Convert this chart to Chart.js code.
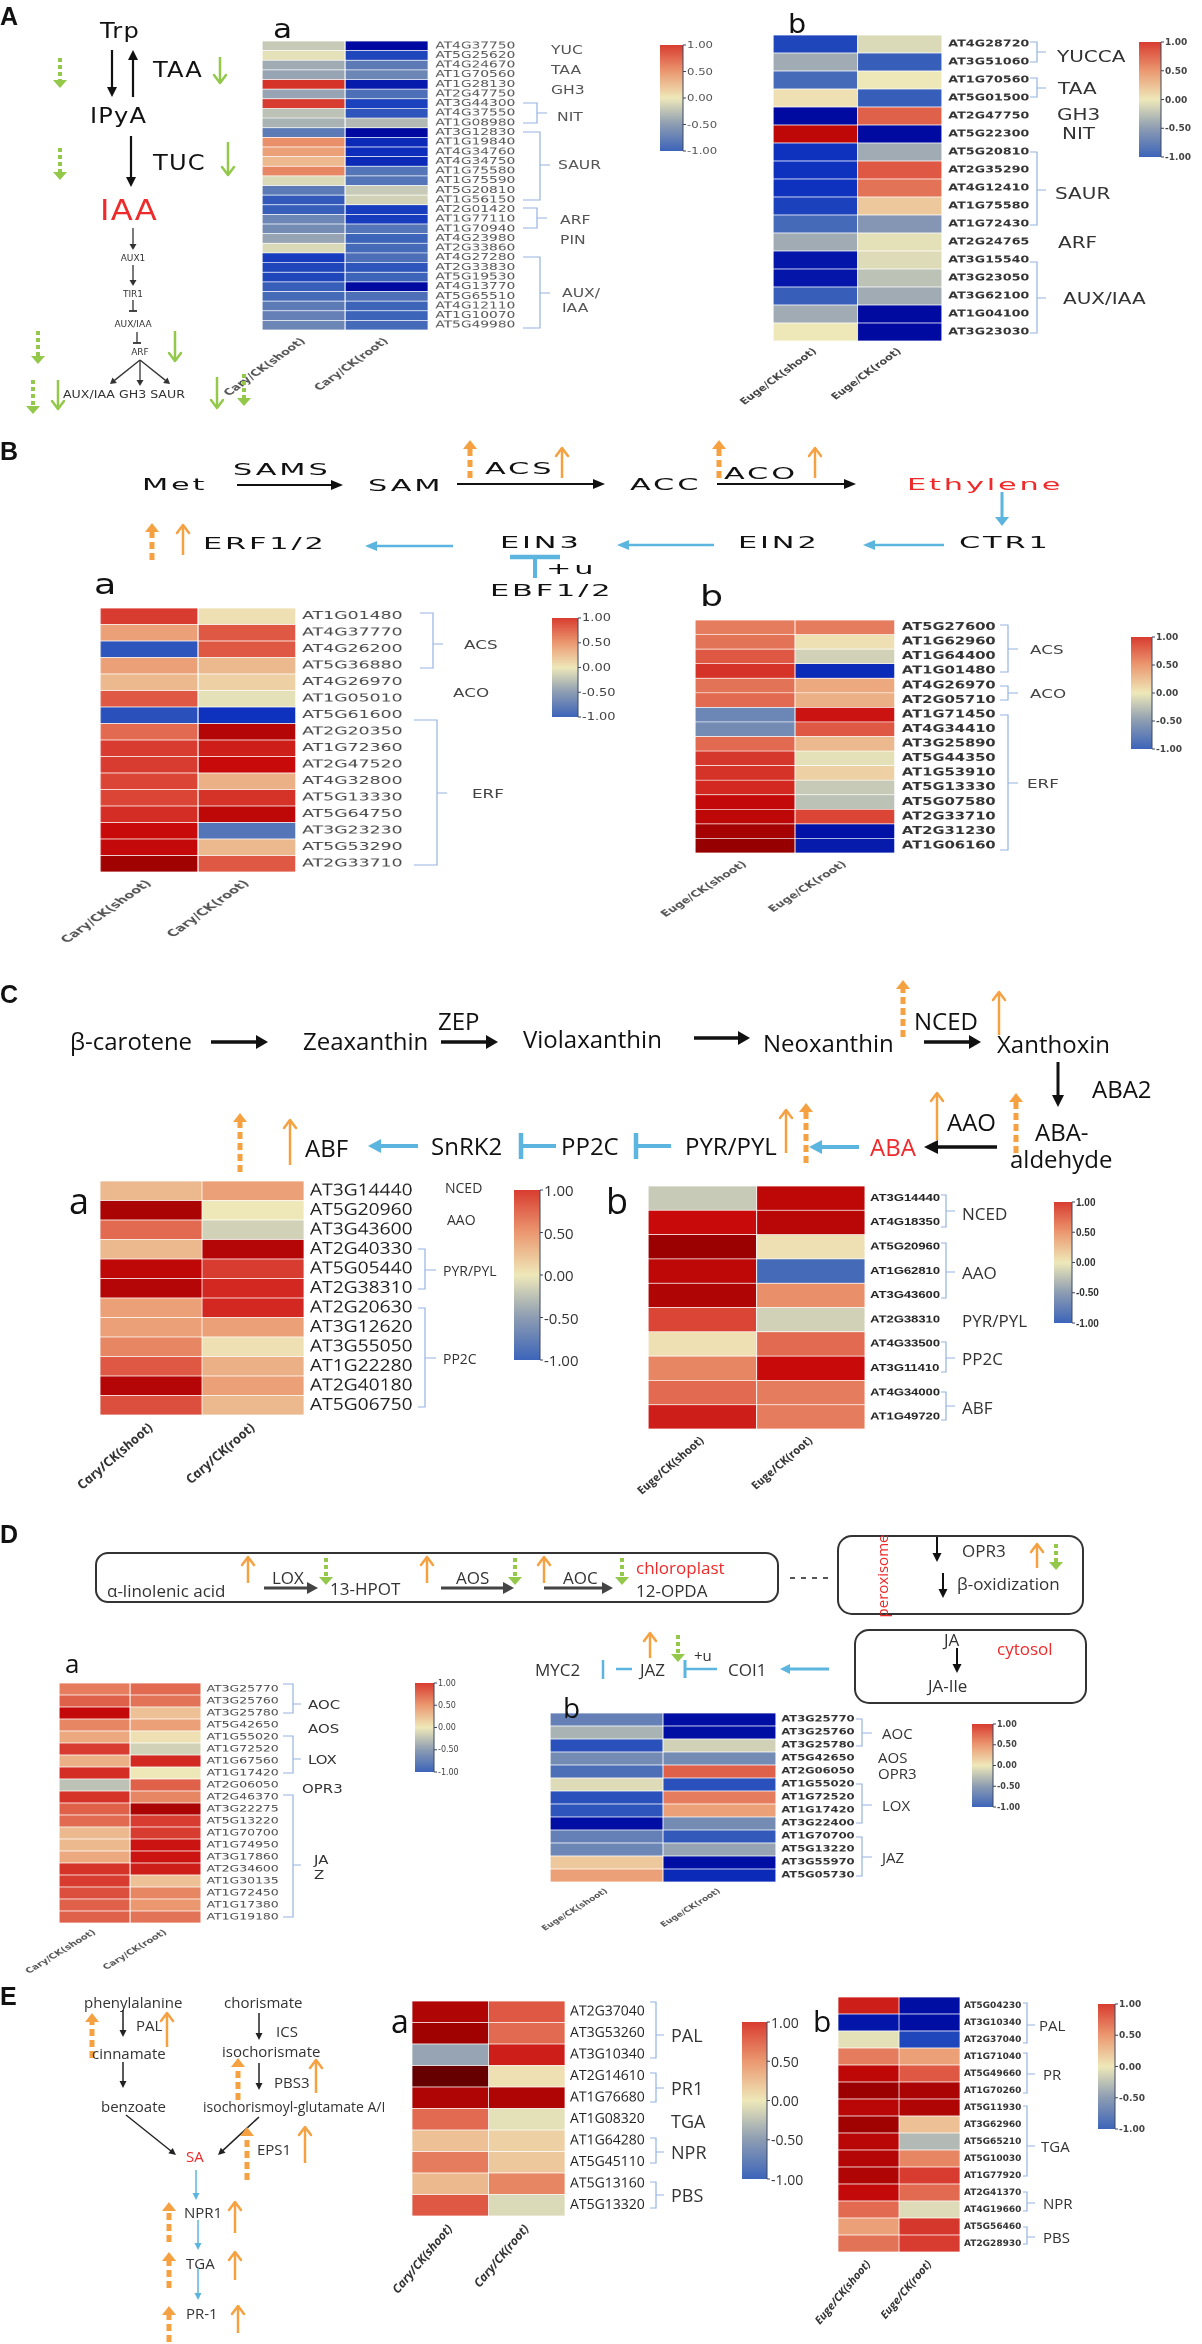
<!DOCTYPE html>
<html>
<head>
<meta charset="utf-8">
<script src="https://cdn.jsdelivr.net/npm/chart.js@4.4.1/dist/chart.umd.min.js"></script>
<style>
  html, body { margin: 0; background: #fff; }
  #page { position: relative; width: 1202px; height: 2344px; overflow: hidden; }
  #ov { position: absolute; left: 0; top: 0; pointer-events: none; }
</style>
</head>
<body>
<div id="page"><svg id="ov" width="1202" height="2344"></svg></div>
<script>
// column labels and colour bar ticks
const caryCols = ['Cary/CK(shoot)', 'Cary/CK(root)'];
const eugeCols = ['Euge/CK(shoot)', 'Euge/CK(root)'];
const barTicks = ['1.00', '0.50', '0.00', '-0.50', '-1.00'];

// A  auxin
const auxGenesA = ['AT4G37750','AT5G25620','AT4G24670','AT1G70560','AT1G28130','AT2G47750','AT3G44300','AT4G37550','AT1G08980','AT3G12830','AT1G19840','AT4G34760','AT4G34750','AT1G75580','AT1G75590','AT5G20810','AT1G56150','AT2G01420','AT1G77110','AT1G70940','AT4G23980','AT2G33860','AT4G27280','AT2G33830','AT5G19530','AT4G13770','AT5G65510','AT4G12110','AT1G10070','AT5G49980'];
const auxShootA = [-0.2,-0.05,-0.4,-0.45,1.1,-0.45,1.0,-0.25,-0.35,-0.8,0.55,0.45,0.3,0.6,-0.1,-0.8,-1.1,-1.05,-0.7,-0.65,-0.45,-0.1,-1.4,-1.3,-1.3,-1.05,-0.95,-0.8,-0.75,-0.7];
const auxRootA = [-2.0,-1.3,-0.8,-0.7,-1.8,-0.9,-1.35,-1.15,-0.3,-2.0,-1.6,-1.55,-1.6,-0.85,-0.85,-0.2,-0.15,-1.4,-1.4,-0.85,-1.0,-0.95,-0.9,-1.15,-1.0,-2.0,-0.9,-1.0,-1.0,-0.95];
const auxGenesB = ['AT4G28720','AT3G51060','AT1G70560','AT5G01500','AT2G47750','AT5G22300','AT5G20810','AT2G35290','AT4G12410','AT1G75580','AT1G72430','AT2G24765','AT3G15540','AT3G23050','AT3G62100','AT1G04100','AT3G23030'];
const auxShootB = [-1.3,-0.4,-0.95,0.05,-2.0,1.6,-1.5,-1.5,-1.5,-1.35,-0.95,-0.4,-1.85,-1.85,-1.05,-0.4,0.0];
const auxRootB = [-0.1,-1.05,0.0,-1.05,0.8,-2.0,-0.4,0.85,0.7,0.2,-0.55,-0.05,-0.08,-0.25,-0.4,-2.0,-2.0];

// B  ethylene
const ethGenesA = ['AT1G01480','AT4G37770','AT4G26200','AT5G36880','AT4G26970','AT1G05010','AT5G61600','AT2G20350','AT1G72360','AT2G47520','AT4G32800','AT5G13330','AT5G64750','AT3G23230','AT5G53290','AT2G33710'];
const ethShootA = [1.0,0.45,-1.15,0.45,0.3,0.85,-1.2,0.75,1.0,1.0,0.95,0.95,1.15,1.5,1.55,1.9];
const ethRootA = [0.05,0.85,0.85,0.3,0.15,-0.05,-1.5,1.7,1.3,1.5,0.35,1.1,1.6,-0.85,0.3,0.85];
const ethGenesB = ['AT5G27600','AT1G62960','AT1G64400','AT1G01480','AT4G26970','AT2G05710','AT1G71450','AT4G34410','AT3G25890','AT5G44350','AT1G53910','AT5G13330','AT5G07580','AT2G33710','AT2G31230','AT1G06160'];
const ethShootB = [0.65,0.7,0.85,1.1,0.7,0.75,-0.7,-0.65,0.75,1.05,1.1,1.2,1.55,1.6,1.85,2.0];
const ethRootB = [0.65,0.05,-0.15,-1.6,0.4,0.35,1.4,0.85,0.3,-0.05,0.15,-0.2,-0.25,0.95,-1.9,-1.8];

// C  ABA
const abaGenesA = ['AT3G14440','AT5G20960','AT3G43600','AT2G40330','AT5G05440','AT2G38310','AT2G20630','AT3G12620','AT3G55050','AT1G22280','AT2G40180','AT5G06750'];
const abaShootA = [0.3,1.8,0.75,0.3,1.6,1.7,0.45,0.45,0.6,0.85,1.7,0.9];
const abaRootA = [0.45,0.0,-0.15,1.7,1.0,1.2,1.2,0.45,0.05,0.35,0.45,0.3];
const abaGenesB = ['AT3G14440','AT4G18350','AT5G20960','AT1G62810','AT3G43600','AT2G38310','AT4G33500','AT3G11410','AT4G34000','AT1G49720'];
const abaShootB = [-0.2,1.5,1.95,1.6,1.75,0.95,0.05,0.6,0.75,1.3];
const abaRootB = [1.6,1.65,0.05,-0.95,0.55,-0.15,0.75,1.5,0.65,0.65];

// D  jasmonate
const jaGenesA = ['AT3G25770','AT3G25760','AT3G25780','AT5G42650','AT1G55020','AT1G72520','AT1G67560','AT1G17420','AT2G06050','AT2G46370','AT3G22275','AT5G13220','AT1G70700','AT1G74950','AT3G17860','AT2G34600','AT1G30135','AT1G72450','AT1G17380','AT1G19180'];
const jaShootA = [0.65,0.8,1.55,0.6,0.4,1.0,0.35,1.15,-0.25,1.1,0.8,0.75,0.3,0.3,0.4,1.1,1.0,0.9,0.8,0.8];
const jaRootA = [0.75,0.7,0.25,0.45,0.05,-0.15,1.2,0.0,0.8,0.6,1.8,1.0,1.0,1.4,1.4,1.3,0.25,0.6,0.5,0.7];
const jaGenesB = ['AT3G25770','AT3G25760','AT3G25780','AT5G42650','AT2G06050','AT1G55020','AT1G72520','AT1G17420','AT3G22400','AT1G70700','AT5G13220','AT3G55970','AT5G05730'];
const jaShootB = [-0.75,-0.35,-1.2,-0.65,-0.9,-0.08,-1.2,-1.15,-1.95,-0.75,-0.7,0.2,0.45];
const jaRootB = [-1.95,-1.95,-0.15,-0.65,0.8,-1.2,0.65,0.45,-0.65,-1.1,-0.45,-1.95,-1.6];

// E  salicylic acid
const saGenesA = ['AT2G37040','AT3G53260','AT3G10340','AT2G14610','AT1G76680','AT1G08320','AT1G64280','AT5G45110','AT5G13160','AT5G13320'];
const saShootA = [1.75,1.9,-0.45,2.4,1.75,0.75,0.25,0.65,0.3,0.85];
const saRootA = [0.85,0.75,1.3,0.05,1.75,-0.05,0.15,0.2,0.6,-0.1];
const saGenesB = ['AT5G04230','AT3G10340','AT2G37040','AT1G71040','AT5G49660','AT1G70260','AT5G11930','AT3G62960','AT5G65210','AT5G10030','AT1G77920','AT2G41370','AT4G19660','AT5G56460','AT2G28930'];
const saShootB = [1.3,-1.85,-0.05,0.65,1.6,1.95,1.65,1.9,1.65,1.7,1.75,1.55,0.75,0.45,0.7];
const saRootB = [-1.95,-1.95,-1.3,0.45,0.85,1.8,1.75,0.25,-0.3,0.6,1.0,0.75,-0.08,1.05,1.0];

const DJ = 'DejaVu Sans', OS = 'Open Sans', LS = 'Liberation Sans';
const ORANGE = '#f5a142', GREEN = '#93c84b', BLUE = '#5bb5de', RED = '#ee2a2a', BRK = '#95b3df';

const stops = [
  [-2.0, [0, 10, 160]], [-1.5, [14, 50, 190]], [-1.0, [60, 100, 185]], [-0.5, [140, 156, 178]],
  [0.0, [238, 232, 185]], [0.5, [235, 152, 112]], [1.0, [216, 60, 48]], [1.5, [200, 10, 10]],
  [2.0, [150, 0, 0]], [2.5, [90, 0, 0]],
];
function heatColor(v) {
  if (v <= stops[0][0]) return `rgb(${stops[0][1]})`;
  for (let i = 1; i < stops.length; i++) {
    if (v <= stops[i][0]) {
      const [v0, c0] = stops[i - 1], [v1, c1] = stops[i];
      const t = (v - v0) / (v1 - v0);
      return 'rgb(' + c0.map((c, k) => Math.round(c + (c1[k] - c) * t)).join(',') + ')';
    }
  }
  return `rgb(${stops[stops.length - 1][1]})`;
}

const page = document.getElementById('page');
const ov = document.getElementById('ov');

function heatmap(o) {
  const sx = o.sx || 1;
  const W = o.padL + o.w + o.labelW, H = o.h + o.padB;
  const box = document.createElement('div');
  box.style.cssText = `position:absolute;left:${o.x - o.padL}px;top:${o.y}px;width:${W}px;height:${H}px`;
  const cv = document.createElement('canvas');
  cv.width = Math.round(W / sx);
  cv.height = H;
  cv.style.width = W + 'px';
  cv.style.height = H + 'px';
  box.appendChild(cv);
  page.insertBefore(box, ov);
  const cols = o.cols;
  new Chart(cv, {
    type: 'bar',
    data: {
      labels: o.genes,
      datasets: [o.shoot, o.root].map((vals, c) => ({
        label: cols[c],
        data: vals.map((v, i) => ({ x: [c, c + 1], y: o.genes[i], v: v })),
        backgroundColor: (ctx) => heatColor(ctx.raw ? ctx.raw.v : 0),
        borderColor: 'rgba(255,255,255,0.6)',
        borderWidth: 0.7,
        borderSkipped: false,
        barPercentage: 1,
        categoryPercentage: 1,
        grouped: false,
      })),
    },
    options: {
      indexAxis: 'y',
      responsive: false,
      animation: false,
      devicePixelRatio: 2,
      layout: { padding: { left: o.padL / sx, right: 0, top: 0, bottom: 0 } },
      plugins: { legend: { display: false }, tooltip: { enabled: false } },
      scales: {
        y: {
          type: 'category', position: 'right', offset: true,
          grid: { display: false, drawTicks: false }, border: { display: false },
          ticks: { autoSkip: false, padding: o.tickPad, color: o.tick.color, font: o.tick.font },
          afterFit(s) { s.width = o.labelW / sx; s.paddingTop = 0; s.paddingBottom = 0; },
        },
        x: {
          type: 'linear', min: 0, max: 2,
          grid: { display: false, drawTicks: false }, border: { display: false },
          afterBuildTicks(s) { s.ticks = [{ value: 0.5 }, { value: 1.5 }]; },
          ticks: {
            autoSkip: false, callback: (v, i) => cols[i],
            minRotation: o.rot, maxRotation: o.rot, padding: o.colPad,
            color: o.col.color, font: o.col.font,
          },
          afterFit(s) { s.height = o.padB; s.paddingLeft = 0; s.paddingRight = 0; },
        },
      },
    },
  });
}

// ---- svg drawing helpers ----
const parts = [];
function T(x, y, s, o = {}) {
  const sx = o.sx || 1;
  const a = [
    `font-size="${o.size || 14}"`, `font-family="${o.font || DJ}"`, `fill="${o.color || '#111'}"`,
    o.weight ? `font-weight="${o.weight}"` : '', o.italic ? 'font-style="italic"' : '',
    o.ls ? `letter-spacing="${o.ls}"` : '', o.anchor ? `text-anchor="${o.anchor}"` : '',
  ].join(' ');
  const tf = `translate(${x} ${y})${o.rot ? ` rotate(${o.rot})` : ''} scale(${sx} 1)`;
  parts.push(`<text transform="${tf}" ${a} dominant-baseline="central">${s}</text>`);
}
function line(x1, y1, x2, y2, c, w, dash) {
  parts.push(`<line x1="${x1}" y1="${y1}" x2="${x2}" y2="${y2}" stroke="${c}" stroke-width="${w}"${dash ? ` stroke-dasharray="${dash}"` : ''}/>`);
}
function arrow(x1, y1, x2, y2, o = {}) {
  const c = o.color || '#111', w = o.w || 2, hl = o.hl || 9, hw = o.hw || 5;
  const a = Math.atan2(y2 - y1, x2 - x1), ca = Math.cos(a), sa = Math.sin(a);
  const bx = x2 - hl * ca, by = y2 - hl * sa;
  const p1 = `${bx + hw * sa},${by - hw * ca}`, p2 = `${bx - hw * sa},${by + hw * ca}`;
  if (o.open) {
    line(x1, y1, x2 - w * 0.5 * ca, y2 - w * 0.5 * sa, c, w, o.dash);
    parts.push(`<polyline points="${p1} ${x2},${y2} ${p2}" fill="none" stroke="${c}" stroke-width="${w}" stroke-linecap="round" stroke-linejoin="round"/>`);
  } else {
    line(x1, y1, bx + ca, by + sa, c, w, o.dash);
    parts.push(`<polygon points="${x2},${y2} ${p1} ${p2}" fill="${c}"/>`);
  }
}
const kinds = {
  os: { color: ORANGE, w: 2.5, open: true, hl: 8, hw: 6 },
  od: { color: ORANGE, w: 5, dash: '7 4', hl: 9, hw: 7 },
  gs: { color: GREEN, w: 2.5, open: true, hl: 8, hw: 6 },
  gd: { color: GREEN, w: 4, dash: '4 3', hl: 8, hw: 7 },
};
function vert(x, y0, y1, k) { arrow(x, y0, x, y1, kinds[k]); }
function tbar(x1, y1, x2, y2, len, c, w) {
  c = c || '#111'; w = w || 1.5;
  line(x1, y1, x2, y2, c, w);
  const a = Math.atan2(y2 - y1, x2 - x1), sa = Math.sin(a), ca = Math.cos(a);
  line(x2 + len / 2 * sa, y2 - len / 2 * ca, x2 - len / 2 * sa, y2 + len / 2 * ca, c, w + 0.5);
}
function br(x0, x1, y1, y2, ym, x2) {
  parts.push(`<path d="M${x0} ${y1} H${x1} V${y2} H${x0} M${x1} ${ym} H${x2}" fill="none" stroke="${BRK}" stroke-width="1.2"/>`);
}
function rbox(x, y, w, h, r) {
  parts.push(`<rect x="${x}" y="${y}" width="${w}" height="${h}" rx="${r}" fill="none" stroke="#333" stroke-width="2"/>`);
}
let gid = 0;
function cbar(x, y, w, h, o = {}) {
  const id = 'cb' + (gid++);
  const st = [1, 0.5, 0, -0.5, -1].map((v, i) => `<stop offset="${i * 25}%" stop-color="${heatColor(v)}"/>`).join('');
  parts.push(`<defs><linearGradient id="${id}" x1="0" y1="0" x2="0" y2="1">${st}</linearGradient></defs>`);
  parts.push(`<rect x="${x}" y="${y}" width="${w}" height="${h}" fill="url(#${id})"/>`);
  line(x + w, y, x + w, y + h, '#3c4660', 1);
  barTicks.forEach((t, i) => {
    const ty = y + h * i / 4;
    line(x + w, ty, x + w + 3, ty, '#3c4660', 1);
    T(x + w + 4, ty, t, o);
  });
}

// ---- heatmaps ----
heatmap({ x: 262, y: 41, w: 166, h: 289, genes: auxGenesA, shoot: auxShootA, root: auxRootA, cols: caryCols,
  labelW: 120, padL: 40, padB: 75, sx: 1.45, tickPad: 5, tick: { font: { family: DJ, size: 9.5 }, color: '#555' },
  col: { font: { family: DJ, size: 9, weight: 'bold' }, color: '#555' }, rot: 46, colPad: 6 });
heatmap({ x: 773, y: 35, w: 169, h: 306, genes: auxGenesB, shoot: auxShootB, root: auxRootB, cols: eugeCols,
  labelW: 110, padL: 40, padB: 70, sx: 1.27, tickPad: 5, tick: { font: { family: DJ, size: 10, weight: 'bold' }, color: '#333' },
  col: { font: { family: DJ, size: 9, weight: 'bold' }, color: '#444' }, rot: 43, colPad: 5 });
heatmap({ x: 100, y: 608, w: 196, h: 264, genes: ethGenesA, shoot: ethShootA, root: ethRootA, cols: caryCols,
  labelW: 125, padL: 75, padB: 75, sx: 1.57, tickPad: 4, tick: { font: { family: DJ, size: 11 }, color: '#444' },
  col: { font: { family: DJ, size: 9.5, weight: 'bold' }, color: '#555' }, rot: 48, colPad: 6 });
heatmap({ x: 695, y: 620, w: 200, h: 233, genes: ethGenesB, shoot: ethShootB, root: ethRootB, cols: eugeCols,
  labelW: 110, padL: 60, padB: 70, sx: 1.4, tickPad: 5, tick: { font: { family: DJ, size: 10.5, weight: 'bold' }, color: '#333' },
  col: { font: { family: DJ, size: 9, weight: 'bold' }, color: '#555' }, rot: 42, colPad: 6 });
heatmap({ x: 100, y: 1181, w: 204, h: 234, genes: abaGenesA, shoot: abaShootA, root: abaRootA, cols: caryCols,
  labelW: 118, padL: 50, padB: 90, sx: 1.2, tickPad: 5, tick: { font: { family: OS, size: 16 }, color: '#222' },
  col: { font: { family: OS, size: 12, weight: 'bold', style: 'italic' }, color: '#333' }, rot: 46, colPad: 6 });
heatmap({ x: 648, y: 1186, w: 217, h: 243, genes: abaGenesB, shoot: abaShootB, root: abaRootB, cols: eugeCols,
  labelW: 75, padL: 50, padB: 80, sx: 1.3, tickPad: 4, tick: { font: { family: LS, size: 10, weight: 'bold' }, color: '#222' },
  col: { font: { family: OS, size: 10, weight: 'bold', style: 'italic' }, color: '#333' }, rot: 48, colPad: 6 });
heatmap({ x: 59, y: 1683, w: 142, h: 240, genes: jaGenesA, shoot: jaShootA, root: jaRootA, cols: caryCols,
  labelW: 82, padL: 45, padB: 50, sx: 1.38, tickPad: 4, tick: { font: { family: DJ, size: 9 }, color: '#444' },
  col: { font: { family: DJ, size: 7.5, weight: 'bold' }, color: '#555' }, rot: 40, colPad: 5 });
heatmap({ x: 550, y: 1713, w: 226, h: 169, genes: jaGenesB, shoot: jaShootB, root: jaRootB, cols: eugeCols,
  labelW: 80, padL: 40, padB: 50, sx: 1.35, tickPad: 4, tick: { font: { family: DJ, size: 8.5, weight: 'bold' }, color: '#333' },
  col: { font: { family: DJ, size: 7, weight: 'bold' }, color: '#555' }, rot: 40, colPad: 5 });
heatmap({ x: 412, y: 2001, w: 153, h: 215, genes: saGenesA, shoot: saShootA, root: saRootA, cols: caryCols,
  labelW: 90, padL: 30, padB: 85, sx: 1, tickPad: 5, tick: { font: { family: OS, size: 14 }, color: '#222' },
  col: { font: { family: OS, size: 12, weight: 'bold', style: 'italic' }, color: '#333' }, rot: 50, colPad: 6 });
heatmap({ x: 838, y: 1997, w: 122, h: 255, genes: saGenesB, shoot: saShootB, root: saRootB, cols: eugeCols,
  labelW: 70, padL: 30, padB: 80, sx: 1, tickPad: 4, tick: { font: { family: DJ, size: 9, weight: 'bold' }, color: '#333' },
  col: { font: { family: OS, size: 11, weight: 'bold', style: 'italic' }, color: '#333' }, rot: 50, colPad: 6 });

// ---- panel letters ----
const big = { size: 25, weight: 'bold', font: LS };
T(0, 16, 'A', big); T(0, 451, 'B', big); T(0, 994, 'C', big); T(0, 1534, 'D', big); T(0, 1996, 'E', big);

// ---- A: auxin pathway ----
const at = { size: 21, sx: 1.15, ls: 1 };
T(100, 31, 'Trp', at);
arrow(112, 50, 112, 97, { w: 2.2, hl: 10, hw: 5 });
arrow(133, 97, 133, 50, { w: 2.2, hl: 10, hw: 5 });
T(153, 70, 'TAA', at); vert(220, 57, 83, 'gs'); vert(60, 58, 88, 'gd');
T(90, 116, 'IPyA', at);
arrow(131, 136, 131, 187, { w: 2.2, hl: 10, hw: 5 });
T(153, 163, 'TUC', at); vert(228, 142, 175, 'gs'); vert(60, 148, 180, 'gd');
T(100, 210, 'IAA', { size: 28, sx: 1.15, ls: 1, color: RED });
const sm = { w: 1.3, hl: 6, hw: 3.5, color: '#333' };
const st = { size: 9, anchor: 'middle', color: '#333' };
arrow(133, 228, 133, 250, sm); T(133, 258, 'AUX1', st);
arrow(133, 265, 133, 286, sm); T(133, 294, 'TIR1', st);
tbar(133, 300, 133, 311, 8, '#333', 1.3); T(133, 324, 'AUX/IAA', st);
tbar(137, 332, 137, 343, 8, '#333', 1.3); T(140, 352, 'ARF', st);
vert(38, 331, 364, 'gd'); vert(175, 331, 361, 'gs');
arrow(140, 360, 110, 384, sm); arrow(140, 360, 140, 386, sm); arrow(140, 360, 170, 384, sm);
T(63, 394, 'AUX/IAA GH3 SAUR', { size: 10.5, sx: 1.2, color: '#333' });
vert(33, 380, 414, 'gd'); vert(58, 380, 409, 'gs'); vert(217, 377, 408, 'gs'); vert(244, 374, 406, 'gd');

T(273, 29, 'a', { size: 26, sx: 1.2 });
const ag = { size: 12, sx: 1.3, color: '#555' };
T(551, 50, 'YUC', ag); T(551, 70, 'TAA', ag); T(551, 90, 'GH3', ag); T(557, 117, 'NIT', ag);
T(558, 165, 'SAUR', ag); T(560, 220, 'ARF', ag); T(560, 240, 'PIN', ag); T(562, 293, 'AUX/', ag); T(562, 308, 'IAA', ag);
br(523, 537, 103, 123, 113, 547); br(523, 540, 132, 200, 165, 550);
br(523, 537, 208, 228, 218, 547); br(523, 540, 257, 328, 293, 550);
cbar(660, 45, 23, 106, { size: 9, sx: 1.3, color: '#555' });

T(788, 24, 'b', { size: 26, sx: 1.1 });
const bg = { size: 16, sx: 1.25, color: '#333' };
T(1057, 56, 'YUCCA', bg); T(1058, 88, 'TAA', bg); T(1057, 114, 'GH3', bg); T(1062, 133, 'NIT', bg);
T(1055, 193, 'SAUR', bg); T(1058, 242, 'ARF', bg); T(1063, 298, 'AUX/IAA', bg);
br(1030, 1037, 42, 62, 52, 1046); br(1030, 1037, 78, 97, 88, 1046);
br(1030, 1037, 152, 225, 190, 1046); br(1030, 1037, 262, 333, 298, 1046);
cbar(1139, 42, 22, 115, { size: 9, weight: 'bold', color: '#444' });

// ---- B: ethylene pathway ----
const bt = { size: 16, sx: 1.9, ls: 1.5, color: '#111' };
const ba = { w: 2, hl: 12, hw: 5 };
const bb = { color: BLUE, w: 2.5, hl: 12, hw: 5 };
T(142, 484, 'Met', bt); T(233, 469, 'SAMS', bt); arrow(237, 485, 343, 485, ba); T(368, 485, 'SAM', bt);
vert(470, 478, 440, 'od'); T(485, 468, 'ACS', bt); vert(562, 478, 448, 'os'); arrow(457, 484, 605, 484, ba);
T(630, 484, 'ACC', bt); vert(719, 478, 440, 'od'); T(724, 473, 'ACO', bt); vert(815, 478, 448, 'os');
arrow(717, 484, 856, 484, ba);
T(907, 484, 'Ethylene', Object.assign({}, bt, { color: RED }));
arrow(1002, 492, 1002, 526, { color: BLUE, w: 3, hl: 9, hw: 7 });
T(959, 542, 'CTR1', bt); arrow(944, 545, 863, 545, bb); T(738, 542, 'EIN2', bt); arrow(714, 545, 617, 545, bb);
T(500, 542, 'EIN3', bt); tbar(535, 578, 535, 557, 50, BLUE, 4); T(546, 568, '+u', bt); T(490, 590, 'EBF1/2', bt);
arrow(453, 546, 365, 546, bb); T(203, 543, 'ERF1/2', bt); vert(152, 560, 523, 'od'); vert(183, 555, 525, 'os');

T(94, 585, 'a', { size: 28, sx: 1.3 }); T(700, 597, 'b', { size: 28, sx: 1.3 });
const eg = { size: 12, sx: 1.4, color: '#444' };
T(464, 644, 'ACS', eg); T(453, 692, 'ACO', eg); T(472, 793, 'ERF', eg);
br(420, 433, 613, 668, 644, 443); br(414, 437, 720, 865, 793, 447);
cbar(552, 618, 26, 99, { size: 10, sx: 1.3, color: '#444' });
T(1030, 649, 'ACS', eg); T(1030, 693, 'ACO', eg); T(1027, 783, 'ERF', eg);
br(1000, 1008, 625, 672, 649, 1018); br(1000, 1008, 686, 700, 693, 1018); br(1000, 1008, 715, 850, 783, 1018);
cbar(1131, 637, 21, 112, { size: 9, weight: 'bold', color: '#444' });

// ---- C: ABA pathway ----
const ct = { size: 24, font: OS, color: '#111' };
const ca = { w: 3.5, hl: 12, hw: 7 };
const cb = { color: BLUE, w: 4, hl: 13, hw: 7 };
T(70, 1040, 'β-carotene', ct); arrow(211, 1042, 268, 1042, ca);
T(303, 1040, 'Zeaxanthin', ct); T(438, 1020, 'ZEP', ct); arrow(441, 1042, 498, 1042, ca);
T(523, 1038, 'Violaxanthin', ct); arrow(694, 1038, 750, 1038, ca);
T(763, 1042, 'Neoxanthin', ct); vert(903, 1037, 980, 'od'); T(914, 1020, 'NCED', ct); vert(999, 1035, 992, 'os');
arrow(924, 1042, 981, 1042, ca); T(997, 1043, 'Xanthoxin', ct);
arrow(1058, 1062, 1058, 1107, { w: 3, hl: 12, hw: 6 }); T(1092, 1088, 'ABA2', ct);
T(1035, 1131, 'ABA-', ct); T(1010, 1158, 'aldehyde', ct);
arrow(997, 1147, 924, 1147, { w: 3.5, hl: 14, hw: 7 }); T(870, 1146, 'ABA', Object.assign({}, ct, { color: RED }));
T(947, 1121, 'AAO', ct); vert(937, 1140, 1093, 'os'); vert(1016, 1153, 1093, 'od');
arrow(859, 1147, 809, 1147, cb); vert(786, 1153, 1110, 'os'); vert(806, 1163, 1103, 'od');
T(685, 1145, 'PYR/PYL', ct); tbar(671, 1146, 636, 1146, 26, BLUE, 4);
T(561, 1145, 'PP2C', ct); tbar(556, 1146, 521, 1146, 26, BLUE, 4);
T(431, 1145, 'SnRK2', ct); arrow(418, 1146, 368, 1146, cb);
T(305, 1147, 'ABF', ct); vert(290, 1165, 1120, 'os'); vert(240, 1172, 1113, 'od');

T(69, 1200, 'a', { size: 36, font: OS });
const cg = { size: 14, font: OS, color: '#333' };
T(445, 1187, 'NCED', cg); T(447, 1219, 'AAO', cg); T(443, 1270, 'PYR/PYL', cg); T(443, 1358, 'PP2C', cg);
br(418, 425, 1249, 1289, 1270, 436); br(418, 425, 1308, 1407, 1358, 436);
cbar(514, 1190, 26, 170, { size: 15, font: OS, color: '#333' });
T(606, 1200, 'b', { size: 36, font: OS });
const cg2 = { size: 17, font: OS, color: '#333' };
T(962, 1213, 'NCED', cg2); T(962, 1272, 'AAO', cg2); T(962, 1320, 'PYR/PYL', cg2); T(962, 1358, 'PP2C', cg2); T(962, 1407, 'ABF', cg2);
br(941, 946, 1195, 1227, 1211, 955); br(941, 946, 1243, 1298, 1272, 955);
br(941, 946, 1342, 1372, 1358, 955); br(941, 946, 1392, 1420, 1406, 955);
cbar(1054, 1202, 18, 121, { size: 10, weight: 'bold', font: LS, color: '#333' });

// ---- D: JA pathway ----
const dt = { size: 17, font: OS, color: '#333' };
const da = { color: '#444', w: 3, hl: 11, hw: 6 };
rbox(96, 1553, 682, 49, 12);
T(107, 1590, 'α-linolenic acid', dt); T(272, 1577, 'LOX', dt); arrow(264, 1588, 318, 1588, da);
vert(248, 1583, 1557, 'os'); vert(326, 1558, 1585, 'gd'); T(330, 1588, '13-HPOT', dt);
vert(427, 1583, 1557, 'os'); T(456, 1577, 'AOS', dt); arrow(441, 1588, 514, 1588, da); vert(515, 1558, 1585, 'gd');
vert(544, 1583, 1557, 'os'); T(563, 1577, 'AOC', dt); arrow(544, 1588, 613, 1588, da); vert(622, 1558, 1585, 'gd');
T(636, 1567, 'chloroplast', Object.assign({}, dt, { color: RED })); T(636, 1590, '12-OPDA', dt);
line(790, 1578, 832, 1578, '#555', 2, '5 6');
rbox(838, 1536, 245, 78, 14);
T(882, 1576, 'peroxisome', { size: 15, font: OS, color: RED, rot: -90, anchor: 'middle' });
arrow(937, 1537, 937, 1562, { w: 2, hl: 9, hw: 4.5 }); T(962, 1550, 'OPR3', dt);
vert(1037, 1568, 1544, 'os'); vert(1056, 1544, 1570, 'gd');
arrow(943, 1573, 943, 1598, { w: 2, hl: 9, hw: 4.5 }); T(957, 1583, 'β-oxidization', dt);
rbox(855, 1630, 231, 73, 14);
T(944, 1639, 'JA', dt); arrow(957, 1648, 957, 1673, { w: 2, hl: 9, hw: 4.5 });
T(997, 1648, 'cytosol', Object.assign({}, dt, { color: RED })); T(928, 1685, 'JA-Ile', dt);
arrow(829, 1669, 780, 1669, { color: BLUE, w: 3, hl: 10, hw: 5 }); T(728, 1669, 'COI1', dt);
tbar(717, 1669, 685, 1669, 18, BLUE, 2.5); T(694, 1655, '+u', { size: 15, font: OS, color: '#333' });
T(640, 1669, 'JAZ', dt); line(616, 1669, 632, 1669, BLUE, 2.5); line(603, 1660, 603, 1679, BLUE, 2.5);
T(535, 1669, 'MYC2', dt); vert(650, 1658, 1633, 'os'); vert(678, 1635, 1662, 'gd');

T(65, 1663, 'a', { size: 26, font: OS });
const dg = { size: 13, sx: 1.15, color: '#333' };
T(308, 1704, 'AOC', dg); T(308, 1728, 'AOS', dg); T(308, 1759, 'LOX', dg); T(302, 1788, 'OPR3', dg);
T(314, 1859, 'JA', dg); T(314, 1874, 'Z', dg);
br(283, 293, 1684, 1713, 1704, 301); br(283, 293, 1736, 1773, 1759, 301); br(283, 293, 1795, 1917, 1865, 301);
cbar(415, 1683, 19, 89, { size: 8, color: '#444' });
T(563, 1707, 'b', { size: 28, font: OS });
const dg2 = { size: 15, font: OS, color: '#333' };
T(882, 1733, 'AOC', dg2); T(878, 1757, 'AOS', dg2); T(878, 1773, 'OPR3', dg2); T(882, 1805, 'LOX', dg2); T(882, 1857, 'JAZ', dg2);
br(856, 862, 1719, 1746, 1733, 872); br(856, 862, 1784, 1823, 1805, 872); br(856, 862, 1837, 1876, 1857, 872);
cbar(972, 1724, 21, 83, { size: 8, weight: 'bold', color: '#444' });

// ---- E: SA pathway ----
const et = { size: 15, font: OS, color: '#333' };
const ea = { w: 1.5, hl: 7, hw: 3.5, color: '#222' };
const eb = { w: 1.5, hl: 7, hw: 3.5, color: BLUE };
T(84, 2002, 'phenylalanine', et); arrow(123, 2010, 123, 2037, ea); T(136, 2025, 'PAL', et);
vert(92, 2058, 2013, 'od'); vert(167, 2047, 2013, 'os');
T(92, 2053, 'cinnamate', et); arrow(123, 2062, 123, 2088, ea); T(101, 2106, 'benzoate', et);
arrow(126, 2115, 176, 2155, ea);
T(224, 2002, 'chorismate', et); arrow(259, 2013, 259, 2040, ea); T(276, 2031, 'ICS', et);
T(222, 2051, 'isochorismate', et); vert(238, 2100, 2058, 'od'); arrow(259, 2063, 259, 2090, ea);
T(274, 2082, 'PBS3', et); vert(316, 2093, 2060, 'os');
T(203, 2106, 'isochorismoyl-glutamate A/I', Object.assign({}, et, { size: 14 }));
arrow(259, 2117, 218, 2155, ea);
T(186, 2156, 'SA', Object.assign({}, et, { color: RED })); vert(247, 2180, 2127, 'od'); T(257, 2149, 'EPS1', et); vert(305, 2163, 2127, 'os');
arrow(196, 2170, 196, 2200, eb); T(184, 2212, 'NPR1', et); vert(169, 2242, 2202, 'od'); vert(235, 2233, 2202, 'os');
arrow(198, 2220, 198, 2250, eb); T(186, 2263, 'TGA', et); vert(169, 2288, 2252, 'od'); vert(235, 2280, 2252, 'os');
arrow(198, 2268, 198, 2300, eb); T(186, 2313, 'PR-1', et); vert(169, 2342, 2306, 'od'); vert(238, 2333, 2306, 'os');

T(391, 2020, 'a', { size: 32, font: OS });
const sg = { size: 18, font: OS, color: '#333' };
T(671, 2035, 'PAL', sg); T(671, 2088, 'PR1', sg); T(671, 2121, 'TGA', sg); T(671, 2152, 'NPR', sg); T(671, 2195, 'PBS', sg);
br(650, 656, 2002, 2058, 2035, 664); br(650, 656, 2073, 2102, 2088, 664);
br(650, 656, 2138, 2163, 2152, 664); br(650, 656, 2182, 2208, 2195, 664);
cbar(742, 2022, 25, 157, { size: 14, font: OS, color: '#333' });
T(813, 2020, 'b', { size: 30, font: OS });
const sg2 = { size: 15, font: OS, color: '#333' };
T(1039, 2025, 'PAL', sg2); T(1043, 2074, 'PR', sg2); T(1041, 2146, 'TGA', sg2); T(1043, 2203, 'NPR', sg2); T(1043, 2237, 'PBS', sg2);
br(1023, 1027, 2003, 2043, 2025, 1035); br(1023, 1027, 2053, 2093, 2074, 1035); br(1023, 1027, 2106, 2176, 2146, 1035);
br(1023, 1027, 2192, 2211, 2203, 1035); br(1023, 1027, 2227, 2244, 2237, 1035);
cbar(1098, 2004, 17, 125, { size: 9, weight: 'bold', color: '#444' });

ov.innerHTML = parts.join('');
</script>
</body>
</html>
